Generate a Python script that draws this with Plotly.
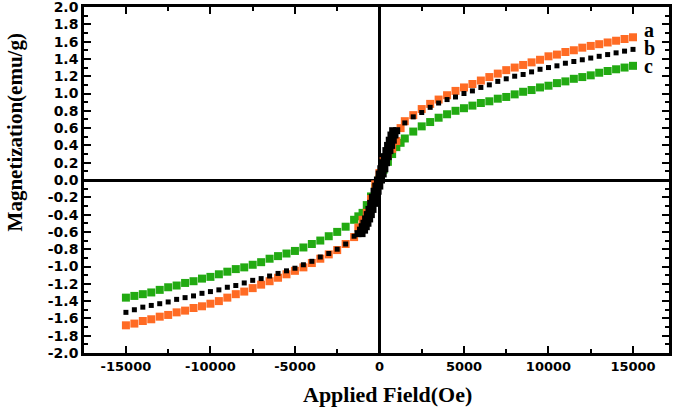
import plotly.graph_objects as go

# ---------------- data ----------------
# outer branches, 500 Oe steps
field_pos = [1500, 2000, 2500, 3000, 3500, 4000, 4500, 5000, 5500, 6000, 6500, 7000,
             7500, 8000, 8500, 9000, 9500, 10000, 10500, 11000, 11500, 12000, 12500,
             13000, 13500, 14000, 14500, 15000]
field_neg = [-1500, -2000, -2500, -3000, -3500, -4000, -4500, -5000, -5500, -6000, -6500,
             -7000, -7500, -8000, -8500, -9000, -9500, -10000, -10500, -11000, -11500,
             -12000, -12500, -13000, -13500, -14000, -14500, -15000]

a_pos = [0.68, 0.75, 0.82, 0.88, 0.93, 0.98, 1.03, 1.07, 1.11, 1.15, 1.19, 1.23,
         1.27, 1.30, 1.33, 1.36, 1.39, 1.43, 1.45, 1.48, 1.50, 1.53, 1.55, 1.57,
         1.59, 1.61, 1.63, 1.65]
a_neg = [-0.66, -0.74, -0.81, -0.86, -0.91, -0.96, -1.01, -1.05, -1.09, -1.13, -1.17,
         -1.21, -1.25, -1.29, -1.32, -1.36, -1.40, -1.43, -1.46, -1.48, -1.51, -1.53,
         -1.56, -1.58, -1.61, -1.63, -1.66, -1.68]

b_pos = [0.66, 0.73, 0.78, 0.84, 0.89, 0.93, 0.96, 1.00, 1.03, 1.07, 1.10, 1.14,
         1.17, 1.20, 1.22, 1.25, 1.28, 1.30, 1.32, 1.35, 1.37, 1.39, 1.41, 1.43,
         1.45, 1.47, 1.49, 1.51]
b_neg = [-0.65, -0.74, -0.80, -0.85, -0.89, -0.94, -0.98, -1.02, -1.05, -1.08, -1.11,
         -1.14, -1.16, -1.19, -1.22, -1.24, -1.27, -1.29, -1.31, -1.34, -1.36, -1.38,
         -1.41, -1.43, -1.45, -1.47, -1.50, -1.53]

c_pos = [0.48, 0.56, 0.62, 0.67, 0.72, 0.76, 0.80, 0.83, 0.86, 0.89, 0.91, 0.94,
         0.96, 0.99, 1.02, 1.04, 1.07, 1.09, 1.12, 1.14, 1.17, 1.19, 1.21, 1.24,
         1.26, 1.28, 1.30, 1.32]
c_neg = [-0.46, -0.54, -0.60, -0.65, -0.70, -0.74, -0.78, -0.82, -0.85, -0.88, -0.91,
         -0.95, -0.98, -1.01, -1.03, -1.06, -1.09, -1.12, -1.14, -1.17, -1.19, -1.22,
         -1.24, -1.27, -1.30, -1.32, -1.34, -1.36]

# central (low-field) region
field_mid = [-1250, -1000, -750, -500, -250, 0, 250, 500, 750, 1000, 1250]
a_mid = [-0.55, -0.46, -0.38, -0.22, -0.05, 0.08, 0.22, 0.30, 0.36, 0.45, 0.60]
c_mid = [-0.42, -0.38, -0.29, -0.19, -0.09, 0.01, 0.12, 0.21, 0.30, 0.38, 0.43]

# sample b: dense loop near the origin (two branches)
b_loop_up_field = [-1270, -1120, -1020, -920, -820, -720, -620, -520, -420, -320, -220,
                   -120, -20, 80, 180, 280, 380, 480, 580, 680, 780]
b_loop_dn_field = [-1030, -880, -780, -680, -580, -480, -380, -280, -180, -80, 20,
                   120, 220, 320, 420, 520, 620, 720, 820, 920, 1020]
b_loop_m = [-0.62, -0.58, -0.54, -0.50, -0.45, -0.40, -0.34, -0.27, -0.20, -0.13, -0.07,
            0.00, 0.07, 0.13, 0.20, 0.27, 0.34, 0.40, 0.46, 0.52, 0.57]

labels = ["a", "b", "c"]
label_x = [15650, 15650, 15650]
label_y = [1.71, 1.50, 1.30]

x_ticks = [-15000, -10000, -5000, 0, 5000, 10000, 15000]
x_ticktext = ["-15000", "-10000", "-5000", "0", "5000", "10000", "15000"]
y_ticks = [round(-2.0 + 0.2 * i, 1) for i in range(21)]
y_ticktext = ["%.1f" % v for v in y_ticks]

x_title = "Applied Field(Oe)"
y_title = "Magnetization(emu/g)"

ORANGE = "#FF6B24"
GREEN = "#22AA12"
BLACK = "#000000"

fig = go.Figure()

def sq(x, y, color, size):
    fig.add_trace(go.Scatter(x=x, y=y, mode="markers",
                             marker=dict(symbol="square", size=size, color=color,
                                         line=dict(width=0)),
                             showlegend=False, hoverinfo="skip"))

# c (green)
sq(field_neg[::-1] + field_mid + field_pos, c_neg[::-1] + c_mid + c_pos, GREEN, 8)
# a (orange)
sq(field_neg[::-1] + field_mid + field_pos, a_neg[::-1] + a_mid + a_pos, ORANGE, 8)
# b (black)
sq(field_neg[::-1] + field_pos, b_neg[::-1] + b_pos, BLACK, 5)
sq(b_loop_up_field, b_loop_m, BLACK, 7)
sq(b_loop_dn_field, b_loop_m, BLACK, 7)

fig.add_trace(go.Scatter(x=label_x, y=label_y, mode="text", text=labels,
                         textposition="middle right",
                         textfont=dict(family="Liberation Serif", size=20, color="black",
                                       weight="bold"),
                         showlegend=False, hoverinfo="skip", cliponaxis=False))

axis_common = dict(showline=True, linecolor="black", linewidth=2.5, mirror="ticks",
                   ticks="inside", ticklen=7, tickwidth=2, tickcolor="black",
                   showgrid=False, zeroline=True, zerolinecolor="black", zerolinewidth=2.5,
                   automargin=False, ticklabeloverflow="allow")

fig.update_xaxes(range=[-17480, 17130], tickvals=x_ticks, ticktext=x_ticktext,
                 tickfont=dict(family="DejaVu Sans", size=13, color="black", weight="bold"),
                 minor=dict(ticks="inside", ticklen=4, tickwidth=2, tickcolor="black",
                            tickvals=[-12500, -7500, -2500, 2500, 7500, 12500]),
                 **axis_common)
fig.update_yaxes(range=[-2.0, 2.0], tickvals=y_ticks, ticktext=y_ticktext,
                 tickfont=dict(family="DejaVu Sans", size=14, color="black", weight="bold"),
                 minor=dict(ticks="inside", ticklen=4, tickwidth=2, tickcolor="black",
                            dtick=0.1),
                 **axis_common)

fig.add_annotation(text=x_title, xref="paper", yref="paper", x=0.518, y=-0.121,
                   xanchor="center", yanchor="middle", showarrow=False,
                   font=dict(family="Liberation Serif", size=22, color="black", weight="bold"))
fig.add_annotation(text=y_title, xref="paper", yref="y", x=-0.118, y=0.55,
                   xanchor="center", yanchor="middle", showarrow=False, textangle=-90,
                   font=dict(family="Liberation Serif", size=21, color="black", weight="bold"))

fig.update_layout(width=677, height=409, margin=dict(l=84, r=8, t=7, b=56),
                  plot_bgcolor="white", paper_bgcolor="white")

fig.write_html("out.html", config={"displayModeBar": False},
               post_script="document.body.style.margin='0';document.body.style.padding='0';")
